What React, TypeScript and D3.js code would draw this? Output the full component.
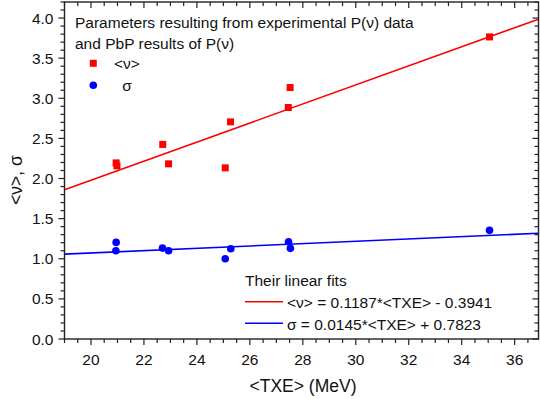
import React from "react";
import * as d3 from "d3";

const nuX = [20.95, 20.98, 22.71, 22.93, 25.07, 25.27, 27.52, 27.45, 35.05];
const nuY = [2.195, 2.158, 2.425, 2.183, 2.133, 2.706, 3.134, 2.885, 3.765];
const sigX = [20.95, 20.94, 22.7, 22.93, 25.07, 25.28, 27.46, 27.53, 35.05];
const sigY = [1.204, 1.1, 1.133, 1.1, 1.0, 1.125, 1.212, 1.13, 1.354];
const nuFit = [0.1187, -0.3941];
const sigFit = [0.0145, 0.7823];
const xTicks = [20, 22, 24, 26, 28, 30, 32, 34, 36];
const yTicks = [0.0, 0.5, 1.0, 1.5, 2.0, 2.5, 3.0, 3.5, 4.0];

const W = 540, H = 399;
const L = 64.5, R = 538.5, T = 2, B = 339;
const FONT = "'Liberation Sans', Arial, sans-serif";

export default function App() {
  const x = d3.scaleLinear().domain([19, 36.9]).range([L, R]);
  const y = d3.scaleLinear().domain([0, 4.2]).range([B, T]);
  const xMinor = d3.range(19, 36.9 + 1e-9, 0.5);
  const yMinor = d3.range(0, 4.2 + 1e-9, 0.1);
  const line = d3.line<number>().x((v) => x(v)).y((v) => v);
  const fitPath = (f: number[]) =>
    d3.line<number>().x((v) => x(v)).y((v) => y(f[0] * v + f[1]))([19, 36.9]) || "";
  const isMajX = (v: number) => Math.abs(v / 2 - Math.round(v / 2)) < 1e-6;
  const isMajY = (v: number) => Math.abs(v / 0.5 - Math.round(v / 0.5)) < 1e-6;
  const ax = "#222";
  return (
    <svg width={W} height={H} style={{ position: "absolute", left: 0, top: 0, background: "#fff" }} fontFamily={FONT}>
      <defs>
        <clipPath id="plot">
          <rect x={L} y={T} width={R - L} height={B - T} />
        </clipPath>
      </defs>
      <g clipPath="url(#plot)">
        <path d={fitPath(nuFit)} stroke="#ff0000" strokeWidth={1.6} fill="none" />
        <path d={fitPath(sigFit)} stroke="#0000ff" strokeWidth={1.6} fill="none" />
      </g>
      {nuX.map((v, i) => (
        <rect key={"n" + i} x={x(v) - 3.5} y={y(nuY[i]) - 3.5} width={7} height={7} fill="#ff0000" />
      ))}
      {sigX.map((v, i) => (
        <circle key={"s" + i} cx={x(v)} cy={y(sigY[i])} r={3.8} fill="#0000ff" />
      ))}
      {/* axes frame */}
      <rect x={L} y={T} width={R - L} height={B - T} fill="none" stroke={ax} strokeWidth={1.4} />
      {xMinor.map((v, i) => {
        const len = isMajX(v) ? 6 : 4;
        return (
          <g key={"xt" + i} stroke={ax} strokeWidth={1.2}>
            <line x1={x(v)} x2={x(v)} y1={B} y2={B + len} />
            <line x1={x(v)} x2={x(v)} y1={T} y2={T + len} />
          </g>
        );
      })}
      {yMinor.map((v, i) => {
        const len = isMajY(v) ? 6 : 4;
        return (
          <g key={"yt" + i} stroke={ax} strokeWidth={1.2}>
            <line x1={L - len} x2={L} y1={y(v)} y2={y(v)} />
            <line x1={R - len} x2={R} y1={y(v)} y2={y(v)} />
          </g>
        );
      })}
      {xTicks.map((v) => (
        <text key={"xl" + v} x={x(v)} y={365} fontSize={15.5} textAnchor="middle" fill="#111">
          {v}
        </text>
      ))}
      {yTicks.map((v) => (
        <text key={"yl" + v} x={53.5} y={y(v) + 5.5} fontSize={15.5} textAnchor="end" fill="#111">
          {v.toFixed(1)}
        </text>
      ))}
      <text x={303} y={392} fontSize={17.5} textAnchor="middle" fill="#111">
        {"<TXE> (MeV)"}
      </text>
      <text transform="translate(22,180) rotate(-90)" fontSize={17.5} textAnchor="middle" fill="#111">
        {"<ν>, σ"}
      </text>
      {/* top legend */}
      <text x={75} y={28} fontSize={15.5} fill="#111">Parameters resulting from experimental P(ν) data</text>
      <text x={75} y={49} fontSize={15.5} fill="#111">and PbP results of P(ν)</text>
      <rect x={93.3 - 3.5} y={63.3 - 3.5} width={7} height={7} fill="#ff0000" />
      <text x={127} y={69} fontSize={15.5} textAnchor="middle" fill="#111">{"<ν>"}</text>
      <circle cx={93.3} cy={85.3} r={3.8} fill="#0000ff" />
      <text x={127} y={90.5} fontSize={15.5} textAnchor="middle" fill="#111">σ</text>
      {/* bottom legend */}
      <text x={245} y={286} fontSize={15.5} fill="#111">Their linear fits</text>
      <line x1={245} x2={283} y1={301.7} y2={301.7} stroke="#ff0000" strokeWidth={1.6} />
      <text x={287} y={308} fontSize={15.5} fill="#111">{"<ν> = 0.1187*<TXE> - 0.3941"}</text>
      <line x1={245} x2={283} y1={323.3} y2={323.3} stroke="#0000ff" strokeWidth={1.6} />
      <text x={287} y={329.5} fontSize={15.5} fill="#111">{"σ = 0.0145*<TXE> + 0.7823"}</text>
    </svg>
  );
}
